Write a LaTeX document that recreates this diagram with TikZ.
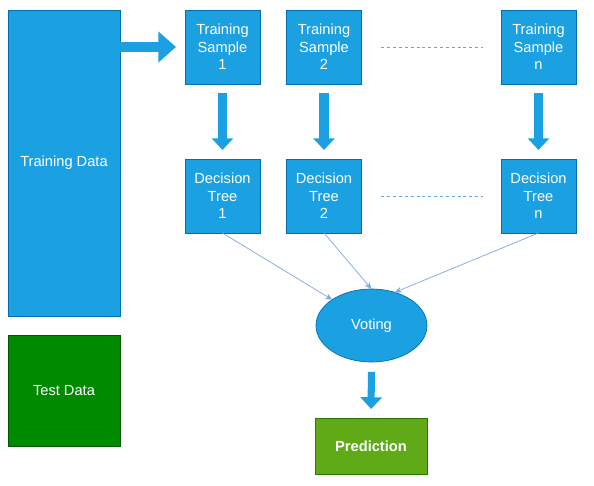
\documentclass[tikz,border=0pt]{standalone}
\usepackage{fontspec}
\setmainfont{Liberation Sans}
\usetikzlibrary{shapes.geometric,arrows.meta}
\definecolor{boxblue}{HTML}{1BA1E2}
\definecolor{edgeblue}{HTML}{006EAF}
\definecolor{testgreen}{HTML}{008A00}
\definecolor{testedge}{HTML}{005700}
\definecolor{predgreen}{HTML}{60A917}
\definecolor{prededge}{HTML}{2D7600}
\definecolor{thinarrow}{HTML}{7EA6E0}
\definecolor{dotblue}{HTML}{5FA8E0}
\begin{document}
\begin{tikzpicture}[x=0.03cm,y=-0.03cm,inner sep=0pt,outer sep=0pt,
  font=\fontsize{12.5}{15}\selectfont,
  bluebox/.style={draw=edgeblue,fill=boxblue,text=white,align=center,line width=0.6pt},
  stepbox/.style={bluebox,minimum width=2.25cm,minimum height=2.22cm},
  fatarrow/.style={draw=boxblue,line width=8.5pt,-{Triangle[width=25.6pt,length=15pt]}},
  downarrow/.style={draw=boxblue,line width=7.7pt,-{Triangle[width=18pt,length=10pt]}},
  votearrow/.style={thinarrow,line width=0.6pt,-{Stealth[length=6pt,width=5pt]}},
  gap/.style={dotblue,line width=0.7pt,dash pattern=on 2.5pt off 2.5pt}]
\useasboundingbox (0,0) rectangle (594,486);
\draw (64,163) node[bluebox,minimum width=3.36cm,minimum height=9.18cm] (tdata) {Training Data};
\draw (64,390.5) node[draw=testedge,fill=testgreen,text=white,line width=0.6pt,
  minimum width=3.36cm,minimum height=3.33cm] (test) {Test Data};

\draw (222.5,47) node[stepbox] (s1) {Training\\Sample\\1};
\draw (324,47) node[stepbox] (s2) {Training\\Sample\\2};
\draw (538.5,47) node[stepbox] (sn) {Training\\Sample\\n};
\draw (222.5,196) node[stepbox] (t1) {Decision\\Tree\\1};
\draw (324,196) node[stepbox] (t2) {Decision\\Tree\\2};
\draw (538.5,196) node[stepbox] (tn) {Decision\\Tree\\n};

\draw (371.5,325.5) node[bluebox,ellipse,minimum width=3.33cm,minimum height=2.19cm] (vote) {Voting};
\draw (371,446) node[draw=prededge,fill=predgreen,text=white,line width=0.6pt,
  minimum width=3.36cm,minimum height=1.68cm,font=\fontsize{12.5}{15}\selectfont\bfseries] (pred) {Prediction};

% data to first sample
\coordinate (feed) at (102,47);
\draw[fatarrow,shorten >=7.7pt] (feed) -- (s1.west);

% samples to trees
\draw[downarrow,shorten <=7.7pt,shorten >=7.7pt] (s1.south) -- (t1.north);
\draw[downarrow,shorten <=7.7pt,shorten >=7.7pt] (s2.south) -- (t2.north);
\draw[downarrow,shorten <=7.7pt,shorten >=7.7pt] (sn.south) -- (tn.north);

\draw[gap,shorten <=17pt,shorten >=15pt] (s2.east) -- (sn.west);
\draw[gap,shorten <=17pt,shorten >=15pt] (t2.east) -- (tn.west);

% trees to voting
\draw[votearrow] (t1.south) -- (vote.north west);
\draw[votearrow] (t2.south) -- (vote.north);
\draw[votearrow] (tn.south) -- (vote.55);

\draw[downarrow,line width=6pt,shorten <=8.5pt,shorten >=7.7pt] (vote.south) -- (pred.north);
\end{tikzpicture}
\end{document}
